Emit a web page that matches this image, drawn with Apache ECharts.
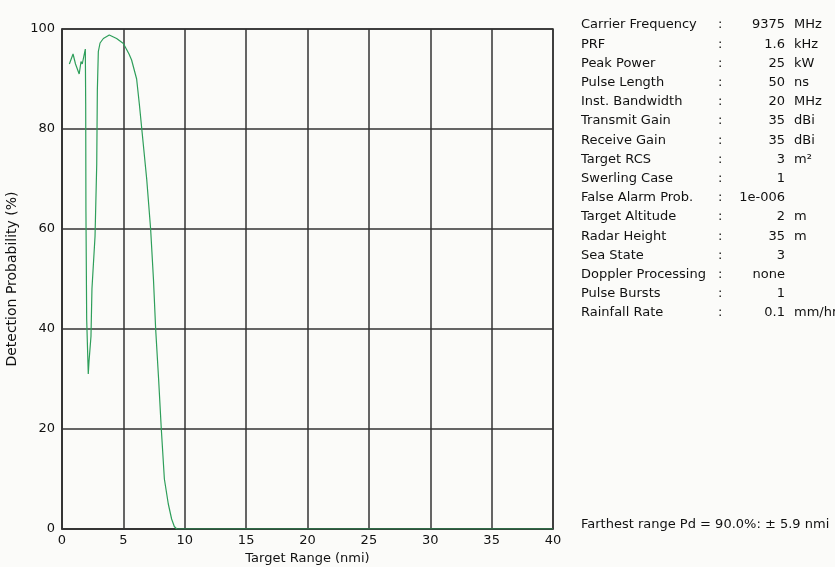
<!DOCTYPE html>
<html>
<head>
<meta charset="utf-8">
<script src="https://cdn.jsdelivr.net/npm/echarts@6/dist/echarts.min.js"></script>
<style>
  html, body { margin: 0; padding: 0; background: #fbfbf9; }
  #chart { width: 835px; height: 567px; }
</style>
</head>
<body>
<div id="chart"></div>
<script>
// detection probability vs range
const rangeNmi = [0.6, 0.9, 1.1, 1.4, 1.55, 1.65, 1.9, 1.93, 1.95, 2.01, 2.14, 2.2, 2.36, 2.44, 2.69, 2.83, 2.88, 2.96,
    3.1, 3.37, 3.85, 4.45, 5.0, 5.46, 5.67, 6.08, 6.3, 6.5, 6.9, 7.22, 7.45, 7.63, 7.87, 8.09, 8.34, 8.66, 8.93, 9.15, 9.35, 40];
const pdPercent = [93, 95, 93, 91, 93.5, 93, 96, 85, 63.5, 42, 31, 33.5, 38.5, 48, 58.5, 73, 87.8, 95.5,
    97.2, 98.1, 98.8, 98.1, 97.1, 95, 93.8, 90, 85, 80, 70, 60, 50, 40, 30, 20, 10, 5, 2, 0.5, 0, 0];

const paramNames = ['Carrier Frequency', 'PRF', 'Peak Power', 'Pulse Length', 'Inst. Bandwidth', 'Transmit Gain',
    'Receive Gain', 'Target RCS', 'Swerling Case', 'False Alarm Prob.', 'Target Altitude', 'Radar Height',
    'Sea State', 'Doppler Processing', 'Pulse Bursts', 'Rainfall Rate'];
const paramValues = ['9375', '1.6', '25', '50', '20', '35', '35', '3', '1', '1e-006', '2', '35', '3', 'none', '1', '0.1'];
const paramUnits = ['MHz', 'kHz', 'kW', 'ns', 'MHz', 'dBi', 'dBi', 'm²', '', '', 'm', 'm', '', '', '', 'mm/hr'];
const footNote = 'Farthest range Pd = 90.0%: ± 5.9 nmi';

const font = 'DejaVu Sans, Liberation Sans, sans-serif';
const txt = { fontFamily: font, fontSize: 13, fill: '#111', textVerticalAlign: 'middle' };

var chart = echarts.init(document.getElementById('chart'));

var panel = [];
paramNames.forEach((n, i) => {
    let y = 25 + i * 19.2;
    panel.push({ type: 'text', x: 581, y: y, style: Object.assign({ text: n }, txt) });
    panel.push({ type: 'text', x: 718, y: y, style: Object.assign({ text: ':' }, txt) });
    panel.push({ type: 'text', x: 785, y: y, style: Object.assign({ text: paramValues[i], textAlign: 'right' }, txt) });
    if(paramUnits[i]) {
        panel.push({ type: 'text', x: 794, y: y, style: Object.assign({ text: paramUnits[i] }, txt) });
    }
});
panel.push({ type: 'text', x: 581, y: 525, style: Object.assign({ text: footNote }, txt) });

chart.setOption({
    backgroundColor: '#fbfbf9',
    animation: false,
    grid: { left: 62, top: 29, width: 491, height: 500, outerBoundsMode: 'none',
        show: true, borderColor: '#333', borderWidth: 1.5, backgroundColor: '#fbfbf9' },
    xAxis: {
        type: 'value', min: 0, max: 40, interval: 5,
        name: 'Target Range (nmi)', nameLocation: 'middle', nameGap: 22,
        nameTextStyle: { fontFamily: font, fontSize: 13, color: '#111' },
        axisLine: { lineStyle: { color: '#333', width: 1.5 } },
        axisTick: { show: false },
        axisLabel: { fontFamily: font, fontSize: 13, color: '#111', margin: 5 },
        splitLine: { lineStyle: { color: '#333', width: 1.5 } }
    },
    yAxis: {
        type: 'value', min: 0, max: 100, interval: 20,
        name: 'Detection Probability (%)', nameLocation: 'middle', nameGap: 39, nameRotate: 90,
        nameTextStyle: { fontFamily: font, fontSize: 14, color: '#111' },
        axisLine: { show: true, lineStyle: { color: '#333', width: 1.5 } },
        axisTick: { show: false },
        axisLabel: { fontFamily: font, fontSize: 13, color: '#111', margin: 7 },
        splitLine: { lineStyle: { color: '#333', width: 1.5 } }
    },
    series: [{
        type: 'line',
        data: rangeNmi.map((x, i) => [x, pdPercent[i]]),
        showSymbol: false,
        lineStyle: { color: '#2e9e5a', width: 1.2 },
        z: 5
    }],
    graphic: panel
});
</script>
</body>
</html>
